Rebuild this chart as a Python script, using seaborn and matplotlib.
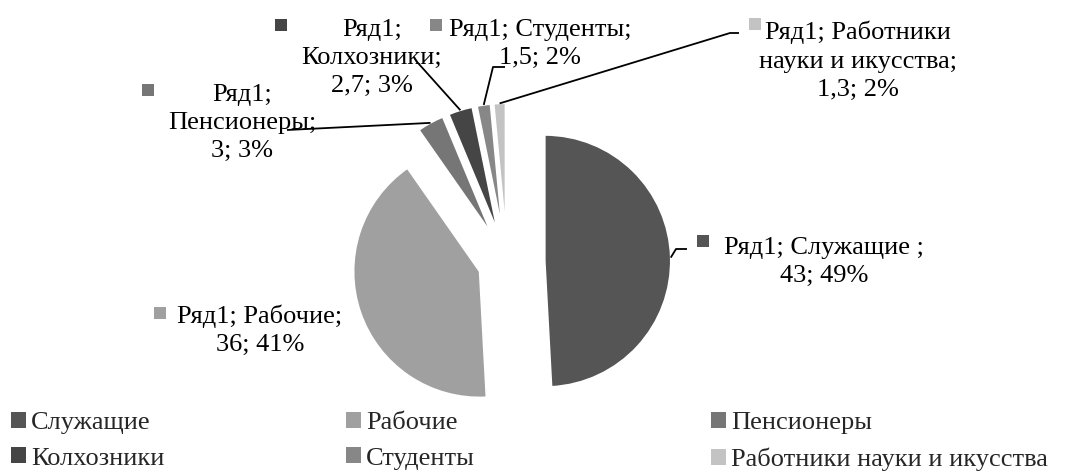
import matplotlib
matplotlib.use('Agg')
import matplotlib.pyplot as plt
from matplotlib.patches import Patch
import seaborn as sns
import numpy as np

# data
series = 'Ряд1'
categories = ['Служащие', 'Рабочие', 'Пенсионеры', 'Колхозники', 'Студенты',
              'Работники науки и икусства']
label_heads = ['Ряд1; Служащие ;', 'Ряд1; Рабочие;', 'Ряд1;\nПенсионеры;',
               'Ряд1;\nКолхозники;', 'Ряд1; Студенты;', 'Ряд1; Работники\nнауки и икусства;']
values = [43, 36, 3, 2.7, 1.5, 1.3]
percents = [49, 41, 3, 3, 2, 2]
colors = ['#555555', '#a0a0a0', '#767676', '#454545', '#878787', '#c3c3c3']
explode = [0.30, 0.23, 0.26, 0.26, 0.26, 0.26]

sns.set_theme(style='white')
plt.rcParams['font.family'] = ['Liberation Serif', 'DejaVu Serif']
FS = 19

W, H = 1074, 474
CX, CY, R = 507, 262, 126  # pie centre and radius in pixels


def px(x, y):
    # pixel position -> data coords of the pie axes
    return (x - CX) / R, (CY - y) / R


fig = plt.figure(figsize=(W / 100, H / 100), dpi=100)
ax = fig.add_axes([0, 0, 1, 1])
wedges, _ = ax.pie(values, colors=colors, startangle=90, counterclock=False,
                   explode=explode, radius=1,
                   wedgeprops=dict(edgecolor='white', linewidth=1.2))
ax.set_xlim(-CX / R, (W - CX) / R)
ax.set_ylim(-(H - CY) / R, CY / R)
ax.set_aspect('equal')
ax.axis('off')

# data labels: text (top of first line), key square, leader points
label_pos = [(824, 237), (260, 304), (242, 84), (372, 19), (540, 19), (858, 21)]
key_pos = [(703, 241), (160, 313), (148, 90), (281, 25), (436, 25), (755, 24)]
leaders = {0: [(676, 249), (687, 249)],
           2: [(287, 130)],
           3: [(418, 63)],
           4: [(493, 67), (505, 67)],
           5: [(730, 33), (739, 33)]}

for i, w in enumerate(wedges):
    v = f'{values[i]:g}'.replace('.', ',')
    txt = f'{label_heads[i]}\n{v}; {percents[i]}%'
    ax.text(*px(*label_pos[i]), txt, ha='center', va='top',
            multialignment='center', fontsize=FS, linespacing=1.36, color='black')
    ax.scatter(*px(*key_pos[i]), marker='s', s=85, color=colors[i], linewidths=0)
    if i in leaders:
        mid = np.deg2rad((w.theta1 + w.theta2) / 2)
        start = (w.center[0] + w.r * np.cos(mid), w.center[1] + w.r * np.sin(mid))
        pts = [start] + [px(*p) for p in leaders[i]]
        xs, ys = zip(*pts)
        ax.plot(xs, ys, color='black', lw=1.3, solid_capstyle='butt')

# legend in three columns
order = [[0, 3], [1, 4], [2, 5]]
col_x = [11, 346, 711]
for c, idx in enumerate(order):
    handles = [Patch(facecolor=colors[k], edgecolor='none') for k in idx]
    fig.legend(handles, [categories[k] for k in idx], loc='upper left',
               bbox_to_anchor=(col_x[c] / W, 1 - 412 / H), frameon=False,
               fontsize=FS, handlelength=0.55, handleheight=0.55,
               handletextpad=0.2, borderpad=0, borderaxespad=0,
               labelspacing=0.5)

fig.savefig('out.png', dpi=100)
